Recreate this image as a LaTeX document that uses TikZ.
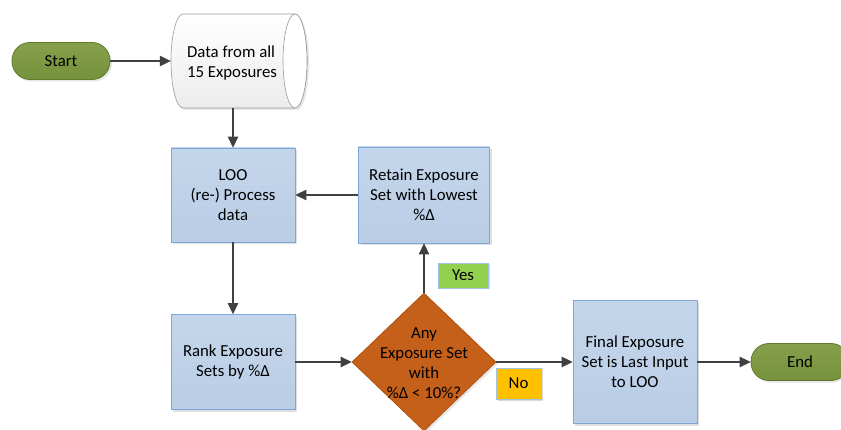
\documentclass[tikz,border=0pt]{standalone}
\usepackage{fontspec}
\setmainfont{Carlito}
\usetikzlibrary{shapes.geometric,arrows.meta,shadows}
\definecolor{boxfill}{HTML}{B9CDE5}
\definecolor{boxtop}{HTML}{C4D6EB}
\definecolor{boxline}{HTML}{7EA6D6}
\definecolor{olive}{HTML}{76923C}
\definecolor{olivetop}{HTML}{869F4A}
\definecolor{oliveline}{HTML}{5F7A2C}
\definecolor{orng}{HTML}{C5601A}
\definecolor{orngline}{HTML}{B0520F}
\definecolor{yesg}{HTML}{92D050}
\definecolor{noy}{HTML}{FFC000}
\definecolor{arr}{HTML}{404040}
\tikzset{
  x=1pt, y=-1pt,
  every node/.style={font=\fontsize{16.8}{20}\selectfont, text=black},
  procbox/.style={draw=boxline, line width=0.8pt, top color=boxtop, bottom color=boxfill, minimum width=124pt, inner sep=0pt, align=center,
     drop shadow={shadow xshift=2pt, shadow yshift=-2pt, opacity=0.25, fill=gray}},
  pill/.style={draw=oliveline, line width=0.8pt, top color=olivetop, bottom color=olive, rounded corners=18pt, minimum width=98pt, minimum height=37pt, inner sep=0pt,
     drop shadow={shadow xshift=2pt, shadow yshift=-2pt, opacity=0.2, fill=gray}},
  tag/.style={draw=boxline!70, line width=0.6pt, inner sep=0pt, align=center,
     drop shadow={shadow xshift=1.5pt, shadow yshift=-1.5pt, opacity=0.3, fill=gray}},
  conn/.style={draw=arr, line width=1.3pt, -{Triangle[length=11pt, width=10.5pt]}},
}
\begin{document}
\begin{tikzpicture}
\useasboundingbox (0,0) rectangle (841,430);
% Start
\node[pill] (start) at (61,61) {Start};
% Data cylinder
\fill[gray, opacity=0.2] (185,16) -- (297,16) arc[start angle=-90, end angle=90, x radius=12, y radius=47] -- (185,110) arc[start angle=90, end angle=270, x radius=12, y radius=47] -- cycle;
\path[draw=gray!80, line width=0.6pt, top color=white, bottom color=gray!15] (183,14) -- (295,14) arc[start angle=-90, end angle=90, x radius=12, y radius=47] -- (183,108) arc[start angle=90, end angle=270, x radius=12, y radius=47] -- cycle;
\draw[gray!80, line width=0.6pt, fill=white] (295,61) ellipse[x radius=12, y radius=47];
\node[inner sep=0pt, minimum width=136pt, minimum height=94pt] (data) at (239,61) {};
\node[align=left, inner sep=0pt] (datatxt) at (232,63) {Data from all\\15 Exposures};
% LOO
\node[procbox, minimum height=94pt] (loo) at (233,195) {LOO\\(re-) Process\\data};
% Retain
\node[procbox, minimum width=131pt, minimum height=96pt] (retain) at (424,195) {Retain Exposure\\Set with Lowest\\\%Δ};
% Rank
\node[procbox, minimum height=95pt] (rank) at (233,362) {Rank Exposure\\Sets by \%Δ};
% Diamond
\node[diamond, draw=orngline, line width=0.8pt, fill=orng, minimum width=144pt, minimum height=138pt, inner sep=0pt,
  drop shadow={shadow xshift=2pt, shadow yshift=-2pt, opacity=0.2, fill=gray}] (dia) at (424,362) {};
\node[align=center, inner sep=0pt] (diatxt) at (424,363) {Any\\Exposure Set\\with\\\%Δ < 10\%?};
% Final
\node[procbox, minimum width=124pt, minimum height=123pt] (final) at (635,362) {Final Exposure\\Set is Last Input\\to LOO};
% End
\node[pill] (end) at (800,362) {End};
% Tags
\node[tag, fill=yesg, minimum width=50pt, minimum height=25pt] (yes) at (463,275.5) {Yes};
\node[tag, fill=noy, minimum width=45pt, minimum height=31pt] (no) at (518.5,383.5) {No};
% Connectors
\draw[conn] (start.east) -- (data.west);
\draw[conn] (data.south -| loo.north) -- (loo.north);
\draw[conn] (retain.west) -- (loo.east);
\draw[conn] (loo.south) -- (rank.north);
\draw[conn] (rank.east) -- (dia.west);
\draw[conn] (dia.north) -- (retain.south);
\draw[conn] (dia.east) -- (final.west);
\draw[conn] (final.east) -- (end.west);
\end{tikzpicture}
\end{document}
